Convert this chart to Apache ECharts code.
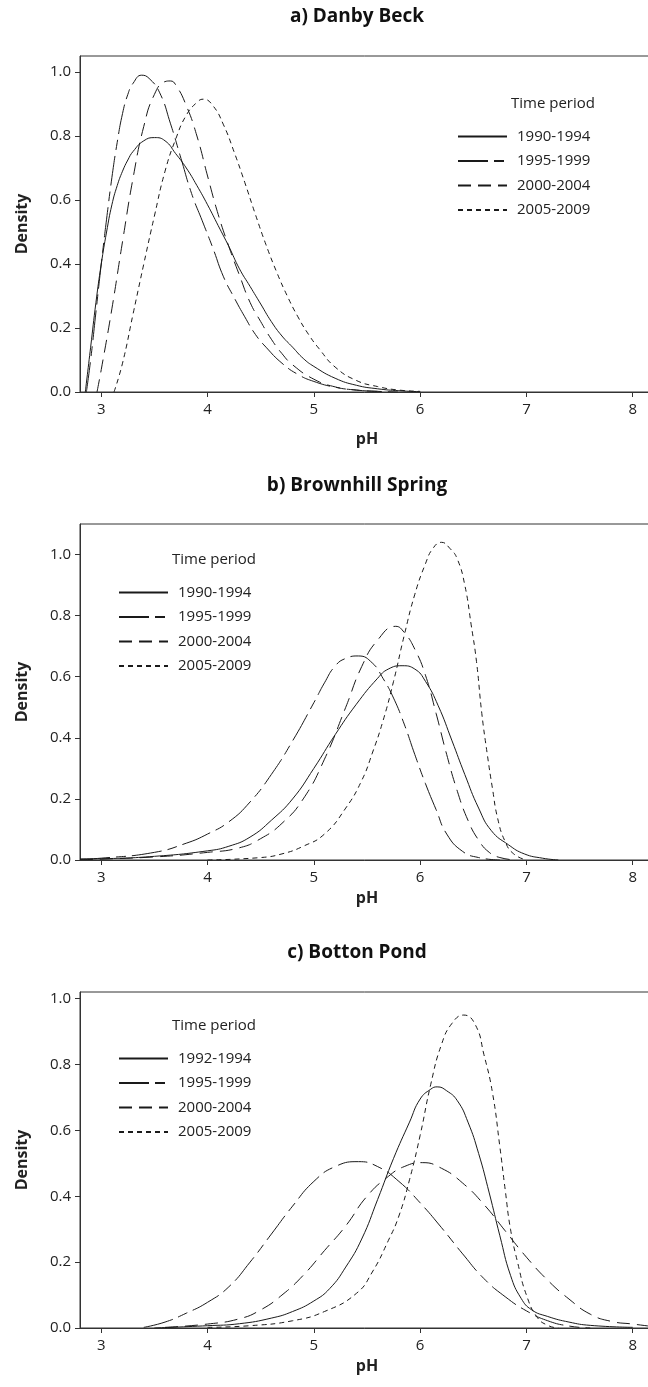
<!DOCTYPE html>
<html lang="en">
<head>
<meta charset="UTF-8">
<title>pH density by time period</title>
<style type="text/css">
  html, body { margin: 0; padding: 0; background: #fff; }
  #chart { width: 648px; height: 1387px; }
</style>
</head>
<body>
<div id="chart"></div>
<script src="https://cdn.jsdelivr.net/npm/echarts@6/dist/echarts.min.js"></script>
<script type="text/javascript">
// panel titles and legend labels
var panelTitles = ['a) Danby Beck', 'b) Brownhill Spring', 'c) Botton Pond'];
var periodsAB = ['1990-1994', '1995-1999', '2000-2004', '2005-2009'];
var periodsC = ['1992-1994', '1995-1999', '2000-2004', '2005-2009'];
var xTicks = [3, 4, 5, 6, 7, 8];
var yTicks = [0, 0.2, 0.4, 0.6, 0.8, 1.0];

// a) Danby Beck  [pH, density]
var danby1990 = [[2.85,0],[2.9,0.14],[2.95,0.28],[3.0,0.40],[3.05,0.50],[3.1,0.585],[3.15,0.645],[3.2,0.69],[3.25,0.725],[3.3,0.752],[3.4,0.785],[3.5,0.795],[3.6,0.785],[3.7,0.745],[3.8,0.70],[3.9,0.645],[4.0,0.585],[4.1,0.52],[4.2,0.455],[4.3,0.385],[4.4,0.33],[4.5,0.275],[4.6,0.22],[4.7,0.175],[4.8,0.14],[4.9,0.105],[5.0,0.08],[5.2,0.043],[5.4,0.021],[5.6,0.01],[5.8,0.004],[6.0,0.001]];
var danby1995 = [[2.86,0],[2.9,0.10],[2.95,0.25],[3.0,0.40],[3.05,0.54],[3.1,0.67],[3.15,0.78],[3.2,0.87],[3.25,0.93],[3.3,0.965],[3.38,0.99],[3.45,0.98],[3.55,0.935],[3.65,0.84],[3.75,0.73],[3.85,0.62],[3.95,0.535],[4.05,0.45],[4.15,0.36],[4.25,0.295],[4.35,0.235],[4.45,0.18],[4.55,0.14],[4.7,0.09],[4.85,0.055],[5.0,0.033],[5.2,0.015],[5.4,0.006],[5.6,0.002],[5.8,0]];
var danby2000 = [[2.96,0],[3.0,0.07],[3.1,0.26],[3.2,0.47],[3.3,0.67],[3.4,0.83],[3.5,0.93],[3.6,0.97],[3.65,0.972],[3.7,0.96],[3.8,0.895],[3.9,0.80],[4.0,0.675],[4.1,0.555],[4.2,0.455],[4.3,0.365],[4.4,0.28],[4.5,0.22],[4.6,0.165],[4.7,0.12],[4.8,0.085],[5.0,0.04],[5.2,0.016],[5.4,0.006],[5.6,0.002]];
var danby2005 = [[3.12,0],[3.2,0.09],[3.3,0.245],[3.4,0.40],[3.5,0.55],[3.6,0.69],[3.7,0.79],[3.8,0.865],[3.9,0.905],[3.96,0.915],[4.05,0.895],[4.15,0.835],[4.25,0.75],[4.35,0.655],[4.45,0.555],[4.55,0.46],[4.65,0.375],[4.75,0.30],[4.85,0.235],[4.95,0.18],[5.05,0.135],[5.2,0.078],[5.4,0.036],[5.6,0.017],[5.8,0.006],[6.0,0.002]];

// b) Brownhill Spring
var brown1990 = [[2.8,0.003],[3.0,0.004],[3.5,0.012],[4.0,0.03],[4.2,0.045],[4.4,0.075],[4.6,0.13],[4.8,0.2],[5.0,0.3],[5.2,0.41],[5.4,0.51],[5.6,0.595],[5.7,0.625],[5.83,0.636],[5.95,0.625],[6.05,0.585],[6.17,0.505],[6.3,0.39],[6.42,0.28],[6.55,0.17],[6.67,0.096],[6.83,0.05],[6.98,0.02],[7.15,0.006],[7.3,0]];
var brown1995 = [[2.8,0.003],[3.0,0.006],[3.5,0.025],[3.8,0.055],[4.0,0.085],[4.2,0.125],[4.4,0.19],[4.6,0.28],[4.8,0.39],[5.0,0.515],[5.1,0.58],[5.2,0.635],[5.3,0.66],[5.42,0.668],[5.55,0.645],[5.65,0.595],[5.75,0.53],[5.85,0.445],[5.95,0.345],[6.05,0.25],[6.15,0.165],[6.25,0.085],[6.4,0.028],[6.55,0.008],[6.75,0]];
var brown2000 = [[2.8,0.001],[3.5,0.01],[4.0,0.025],[4.3,0.04],[4.5,0.07],[4.7,0.12],[4.9,0.2],[5.1,0.33],[5.3,0.5],[5.45,0.633],[5.6,0.72],[5.77,0.765],[5.85,0.745],[5.95,0.69],[6.05,0.605],[6.15,0.48],[6.25,0.345],[6.35,0.225],[6.45,0.13],[6.55,0.065],[6.65,0.025],[6.75,0.008],[6.9,0]];
var brown2005 = [[4.0,0],[4.5,0.008],[4.7,0.02],[4.9,0.045],[5.1,0.085],[5.3,0.17],[5.45,0.26],[5.55,0.35],[5.65,0.455],[5.75,0.585],[5.85,0.735],[5.95,0.87],[6.05,0.97],[6.12,1.02],[6.2,1.04],[6.28,1.02],[6.35,0.985],[6.42,0.9],[6.48,0.77],[6.53,0.65],[6.58,0.48],[6.63,0.35],[6.68,0.235],[6.73,0.135],[6.8,0.06],[6.88,0.02],[7.0,0]];

// c) Botton Pond
var botton1992 = [[3.5,0],[4.0,0.007],[4.3,0.013],[4.6,0.03],[4.8,0.05],[5.0,0.082],[5.15,0.12],[5.3,0.185],[5.45,0.27],[5.6,0.39],[5.75,0.515],[5.9,0.625],[6.0,0.695],[6.1,0.725],[6.16,0.732],[6.25,0.72],[6.35,0.69],[6.45,0.625],[6.55,0.53],[6.65,0.41],[6.75,0.28],[6.85,0.16],[6.95,0.09],[7.05,0.055],[7.2,0.035],[7.4,0.018],[7.6,0.008],[8.0,0.002]];
var botton1995 = [[3.4,0.002],[3.6,0.018],[3.8,0.045],[4.0,0.078],[4.2,0.125],[4.4,0.2],[4.6,0.285],[4.8,0.37],[5.0,0.445],[5.2,0.49],[5.42,0.505],[5.6,0.49],[5.8,0.445],[6.0,0.38],[6.2,0.305],[6.4,0.225],[6.6,0.15],[6.8,0.095],[7.0,0.052],[7.2,0.022],[7.4,0.006],[7.6,0]];
var botton2000 = [[3.6,0.002],[4.0,0.012],[4.3,0.028],[4.5,0.055],[4.7,0.1],[4.9,0.16],[5.1,0.235],[5.3,0.31],[5.5,0.4],[5.7,0.46],[5.85,0.49],[6.02,0.502],[6.2,0.485],[6.4,0.44],[6.6,0.375],[6.8,0.295],[7.0,0.215],[7.2,0.145],[7.4,0.088],[7.6,0.042],[7.8,0.02],[8.0,0.012],[8.2,0.004]];
var botton2005 = [[4.0,0.002],[4.4,0.007],[4.8,0.022],[5.1,0.05],[5.4,0.105],[5.55,0.17],[5.7,0.265],[5.8,0.34],[5.9,0.45],[6.0,0.585],[6.1,0.74],[6.2,0.86],[6.3,0.925],[6.41,0.95],[6.52,0.92],[6.6,0.83],[6.68,0.715],[6.75,0.55],[6.8,0.42],[6.85,0.3],[6.92,0.195],[7.0,0.1],[7.1,0.033],[7.2,0.008],[7.3,0]];

var panelData = [
  [danby1990, danby1995, danby2000, danby2005],
  [brown1990, brown1995, brown2000, brown2005],
  [botton1992, botton1995, botton2000, botton2005]
];
var panelNames = [periodsAB, periodsAB, periodsC];
var yMax = [1.05, 1.1, 1.02];

var FONT = '"Open Sans", "DejaVu Sans", sans-serif';
var INK = '#222';
// solid, long dash + short dash, dash, short dash
var dashes = ['solid', [30, 6, 10, 6], [13, 7], [5, 4]];

var gridTops = [56, 524, 992];
var gridHeight = 336;
var pHGap = [39, 30, 30];
var legendPos = [[452, 124], [113, 580], [113, 1046]];

var grids = [], xAxes = [], yAxes = [], series = [], legends = [], graphics = [];

for (var i = 0; i < 3; i++) {
  grids.push({
    left: 80, top: gridTops[i], width: 574, height: gridHeight,
    show: true, borderColor: '#333', borderWidth: 1,
    outerBoundsMode: 'none'
  });
  xAxes.push({
    gridIndex: i, type: 'value', min: 2.8, max: 8.2,
    name: 'pH', nameLocation: 'middle', nameGap: pHGap[i],
    nameTextStyle: { fontFamily: FONT, fontWeight: 'bold', fontSize: 16, color: INK },
    axisLine: { show: true, onZero: false, lineStyle: { color: '#333', width: 1 } },
    axisTick: { show: true, length: 5, customValues: xTicks, lineStyle: { color: '#333' } },
    axisLabel: { customValues: xTicks, margin: 10, fontFamily: FONT, fontSize: 15, color: INK },
    splitLine: { show: false }
  });
  yAxes.push({
    gridIndex: i, type: 'value', min: 0, max: yMax[i],
    name: 'Density', nameLocation: 'middle', nameGap: 50,
    nameTextStyle: { fontFamily: FONT, fontWeight: 'bold', fontSize: 16, color: INK },
    axisLine: { show: true, onZero: false, lineStyle: { color: '#333', width: 1 } },
    axisTick: { show: true, length: 5, customValues: yTicks, lineStyle: { color: '#333' } },
    axisLabel: {
      customValues: yTicks, margin: 9, fontFamily: FONT, fontSize: 15, color: INK,
      formatter: function (v) { return v.toFixed(1); }
    },
    splitLine: { show: false }
  });
  for (var k = 0; k < 4; k++) {
    series.push({
      type: 'line', name: panelNames[i][k],
      xAxisIndex: i, yAxisIndex: i,
      data: panelData[i][k],
      symbol: 'none', smooth: 0.5,
      lineStyle: { color: '#1a1a1a', width: 1, type: dashes[k] },
      itemStyle: { color: '#1a1a1a' },
      emphasis: { disabled: true }
    });
  }
  legends.push({
    data: panelNames[i], orient: 'vertical',
    left: legendPos[i][0], top: legendPos[i][1],
    itemWidth: 49, itemHeight: 14, itemGap: 9.5,
    selectedMode: false,
    itemStyle: { opacity: 0 },
    textStyle: { fontFamily: FONT, fontSize: 15, color: INK, lineHeight: 14, padding: [0, 0, 0, 5] }
  });
  // legend heading
  graphics.push({
    type: 'text', x: legendPos[i][0] + 59, y: legendPos[i][1] - 20,
    style: { text: 'Time period', font: '15px ' + FONT, fill: INK, verticalAlign: 'middle' }
  });
}

// panel titles
var titleY = [17, 486, 953];
for (var t = 0; t < 3; t++) {
  graphics.push({
    type: 'text', x: 357, y: titleY[t],
    style: { text: panelTitles[t], font: 'bold 19px ' + FONT, fill: '#111', align: 'center', verticalAlign: 'middle' }
  });
}

var myChart = echarts.init(document.getElementById('chart'));
myChart.setOption({
  animation: false,
  backgroundColor: '#fff',
  grid: grids,
  xAxis: xAxes,
  yAxis: yAxes,
  legend: legends,
  series: series,
  graphic: graphics
});
</script>
</body>
</html>
